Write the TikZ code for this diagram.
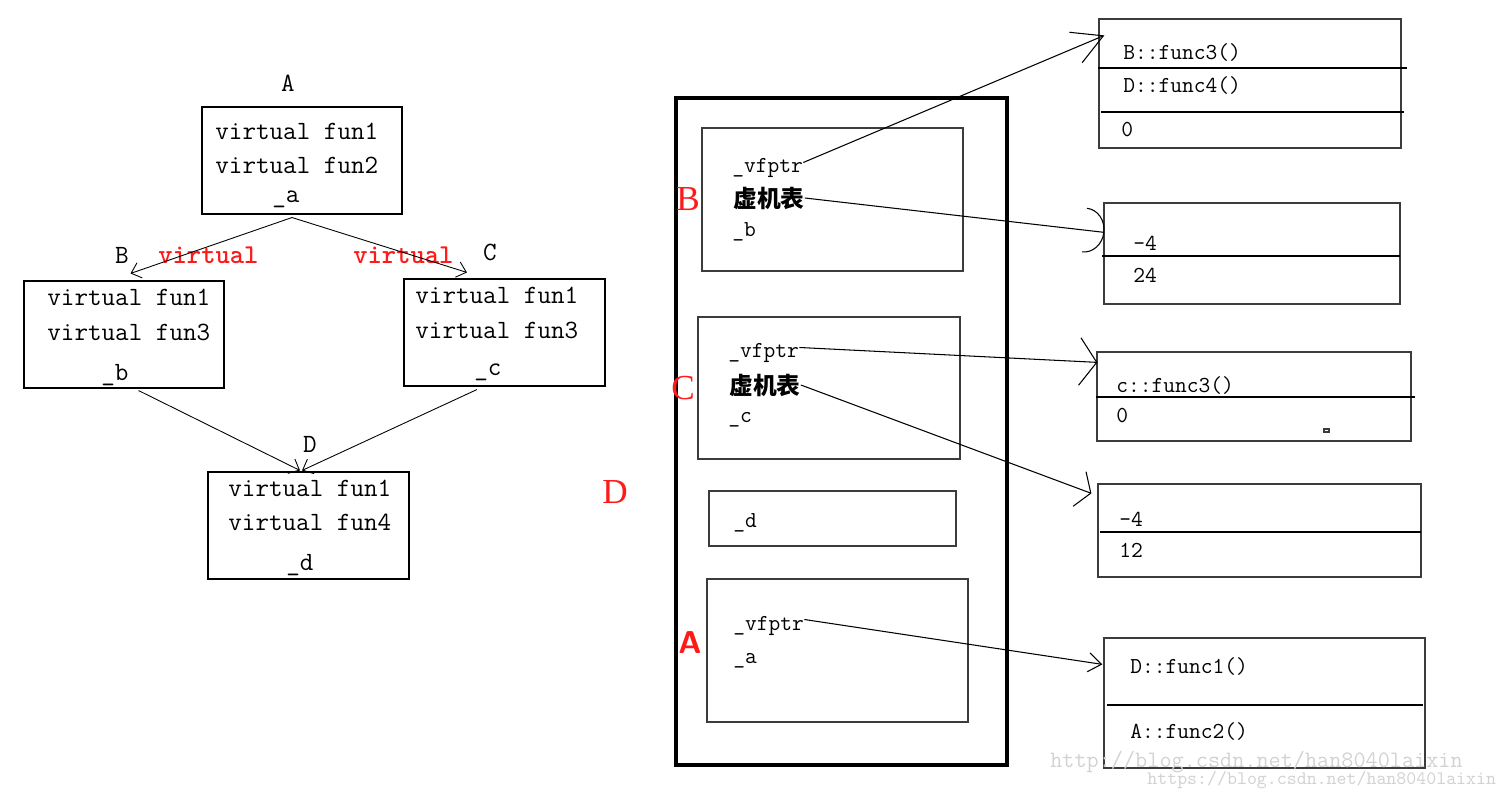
\documentclass[tikz,border=0pt]{standalone}
\usepackage{fontspec}
\usepackage{xcolor}
\usepackage{tikz}
\usetikzlibrary{arrows.meta,fit}
\newfontfamily\cjk{Noto Sans CJK SC}
\newfontfamily\tagserif{Liberation Serif}
\definecolor{ink}{HTML}{000000}
\definecolor{frame}{HTML}{3C3C3C}
\definecolor{mark}{HTML}{FF1A1A}
\definecolor{wm}{HTML}{D2D2D2}
\tikzset{
  box/.style={draw=ink, line width=0.6pt, inner sep=0pt},
  outer/.style={draw=ink, line width=2.3pt, inner sep=0pt},
  slot/.style={draw=frame, line width=0.7pt, inner sep=0pt},
  tbl/.style={draw=frame, line width=0.7pt, inner sep=0pt},
  row/.style={draw=ink, line width=0.6pt},
  txt/.style={anchor=base west, inner sep=0pt, font=\fontsize{15}{18}\selectfont\ttfamily},
  mem/.style={anchor=base west, inner sep=0pt, font=\fontsize{13}{16}\selectfont\ttfamily},
  han/.style={anchor=west, inner sep=0pt, font=\fontsize{13.5}{16}\selectfont\cjk\bfseries},
  tag/.style={inner sep=0pt, font=\fontsize{15}{18}\selectfont\ttfamily},
  redtag/.style={inner sep=0pt, text=mark, font=\fontsize{20}{24}\selectfont\tagserif},
  redword/.style={anchor=base west, inner sep=0pt, text=mark, font=\fontsize{15.5}{18}\selectfont\ttfamily\bfseries},
  inh/.style={draw=ink, line width=0.5pt, -{Straight Barb[length=1.8mm,width=3.2mm]}},
  ptr/.style={draw=ink, line width=0.6pt},
  wmark/.style={anchor=base west, inner sep=0pt, text=wm, font=\ttfamily},
}

\begin{document}
\begin{tikzpicture}[x=0.2mm, y=-0.2mm]
  \useasboundingbox (0,0) rectangle (1508,798);
  % class hierarchy
  \node[box, fit={(202,107) (402,214)}] (boxA) {};
  \node[box, fit={(24,281) (224,388)}] (boxB) {};
  \node[box, fit={(404,279) (605,386)}] (boxC) {};
  \node[box, fit={(208,472) (409,579)}] (boxD) {};
  \node[tag] (labA) at (288,83) {A};
  \node[tag] (labB) at (122,255) {B};
  \node[tag] (labC) at (490,252) {C};
  \node[tag] (labD) at (310,444) {D};
  \node[txt] (a1) at (215,140) {virtual fun1};
  \node[txt] (a2) at (215,174) {virtual fun2};
  \node[txt] (a3) at (272,203) {\_a};
  \node[txt] (b1) at (47,306) {virtual fun1};
  \node[txt] (b2) at (47,341) {virtual fun3};
  \node[txt] (b3) at (101,381) {\_b};
  \node[txt] (c1) at (415,304) {virtual fun1};
  \node[txt] (c2) at (415,339) {virtual fun3};
  \node[txt] (c3) at (474,376) {\_c};
  \node[txt] (d1) at (228,496) {virtual fun1};
  \node[txt] (d2) at (228,531) {virtual fun4};
  \node[txt] (d3) at (286,570) {\_d};
  \node[redword] (vb) at (158,264) {virtual};
  \node[redword] (vc) at (353,264) {virtual};
  \draw[inh] ([shift={(-10,3)}]boxA.south) -- ([shift={(6.5,-7)}]boxB.north);
  \draw[inh] ([shift={(-10,3)}]boxA.south) -- ([shift={(-37.5,-6)}]boxC.north);
  \draw[inh] ([shift={(14.5,2)}]boxB.south) -- ([shift={(-8.5,-1)}]boxD.north);
  \draw[inh] ([shift={(-27.5,3)}]boxC.south) -- ([shift={(-6.5,-1)}]boxD.north);

  % object layout of D
  \node[outer, fit={(676,98) (1007,765)}] (objD) {};
  \node[slot, fit={(702,128) (963,271)}] (slotB) {};
  \node[slot, fit={(698,317) (960,459)}] (slotC) {};
  \node[slot, fit={(709,491) (956,546)}] (slotD) {};
  \node[slot, fit={(707,579) (968,722)}] (slotA) {};
  \node[redtag] (rB) at (688,199) {B};
  \node[redtag] (rC) at (683,388) {C};
  \node[redtag] (rD) at (615,492) {D};
  \node[redtag, font=\fontsize{18}{22}\selectfont\sffamily\bfseries] (rA) at (690,643) {A};
  \node[mem] (bvf) at (732,173) {\_vfptr};
  \node[han] (bvb) at (733,198) {虚机表};
  \node[mem] (bb) at (732,237) {\_b};
  \node[mem] (cvf) at (728,358) {\_vfptr};
  \node[han] (cvb) at (729,385) {虚机表};
  \node[mem] (cc) at (728,423) {\_c};
  \node[mem] (dd) at (733,527) {\_d};
  \node[mem] (avf) at (733,630) {\_vfptr};
  \node[mem] (aa) at (733,663) {\_a};

  % tables
  \node[tbl, fit={(1099,19) (1401,148)}] (t1) {};
  \node[tbl, fit={(1104,203) (1400,304)}] (t2) {};
  \node[tbl, fit={(1097,352) (1411,441)}] (t3) {};
  \node[tbl, fit={(1098,484) (1421,577)}] (t4) {};
  \node[tbl, fit={(1104,638) (1425,768)}] (t5) {};
  \draw[row] (1098,68) -- (1407,68);
  \draw[row] (1101,112) -- (1404,112);
  \draw[row] (1102,256) -- (1400,256);
  \draw[row] (1096,397) -- (1415,397);
  \draw[row] (1100,532) -- (1421,532);
  \draw[row] (1107,705) -- (1423,705);
  \draw[tbl] (1324,429) rectangle (1329,432);
  \node[mem] (t1a) at (1123,60) {B::func3()};
  \node[mem] (t1b) at (1123,93) {D::func4()};
  \node[mem] (t1c) at (1121,137) {0};
  \node[mem] (t2a) at (1133,251) {-4};
  \node[mem] (t2b) at (1133,283) {24};
  \node[mem] (t3a) at (1116,392) {c::func3()};
  \node[mem] (t3b) at (1116,423) {0};
  \node[mem] (t4a) at (1119,526) {-4};
  \node[mem] (t4b) at (1119,558) {12};
  \node[mem] (t5a) at (1130,673) {D::func1()};
  \node[mem] (t5b) at (1130,738) {A::func2()};

  % pointers
  \draw[ptr, -{Straight Barb[length=6mm,width=6.6mm]}] ([shift={(0,-6)}]bvf.east) -- ([shift={(6,17)}]t1.north west);
  \draw[ptr, -{Arc Barb[length=4mm,width=9mm]}] (bvb.east) -- ([shift={(1,30)}]t2.north west);
  \draw[ptr, -{Straight Barb[length=3.4mm,width=9.5mm]}] ([shift={(0,-6)}]cvf.east) -- ([shift={(1,11)}]t3.north west);
  \draw[ptr, -{Straight Barb[length=2.4mm,width=7.4mm]}] (cvb.east) -- ([shift={(-6,10)}]t4.north west);
  \draw[ptr, -{Straight Barb[length=2.6mm,width=3.8mm]}] ([shift={(0,-6)}]avf.east) -- ([shift={(-1,27)}]t5.north west);

  % watermark
  \node[wmark, font=\fontsize{13.4}{16}\selectfont\ttfamily] (wm1) at (1050,767) {http://blog.csdn.net/han8040laixin};
  \node[wmark, font=\fontsize{10.8}{13}\selectfont\ttfamily] (wm2) at (1147,784) {https://blog.csdn.net/han8040laixin};
\end{tikzpicture}
\end{document}
